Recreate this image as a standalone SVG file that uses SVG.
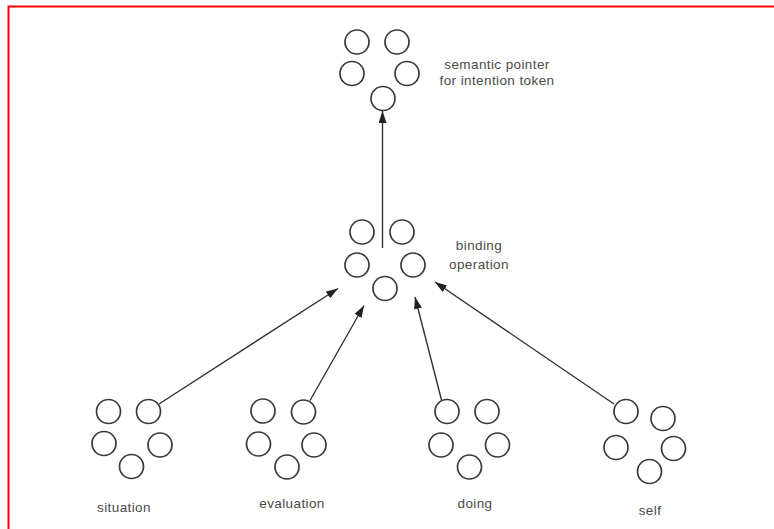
<svg xmlns="http://www.w3.org/2000/svg" width="774" height="529" viewBox="0 0 774 529">
<style>
.n circle{fill:none;stroke:#3a3a3a;stroke-width:1.7}
.lbl{font-family:"Liberation Sans",Arial,sans-serif;font-size:13.5px;letter-spacing:0.4px;fill:#4a4a4a}
.c line{stroke:#333;stroke-width:1.4}
</style>
<defs>
<marker id="ah" viewBox="0 0 12 8" refX="12" refY="4" markerWidth="12" markerHeight="8" markerUnits="userSpaceOnUse" orient="auto">
<path d="M0,0 L12,4 L0,8 Z" fill="#222"/>
</marker>
</defs>
<rect width="774" height="529" fill="#fff"/>
<path d="M8.5,529 V6.5 H774" fill="none" stroke="#f00" stroke-width="2"/>
<g id="intention" class="n">
<circle cx="357" cy="42" r="12"/><circle cx="397" cy="42" r="12"/>
<circle cx="352" cy="73.5" r="12"/><circle cx="407" cy="73.5" r="12"/>
<circle cx="383" cy="98.5" r="12"/>
<text class="lbl" x="497" y="69" text-anchor="middle">semantic pointer</text>
<text class="lbl" x="497" y="85" text-anchor="middle">for intention token</text>
</g>
<g id="binding" class="n">
<circle cx="362" cy="232" r="12"/><circle cx="402" cy="232" r="12"/>
<circle cx="357" cy="265" r="12"/><circle cx="413" cy="265" r="12"/>
<circle cx="385" cy="288.5" r="12"/>
<text class="lbl" x="479" y="250" text-anchor="middle">binding</text>
<text class="lbl" x="479" y="269" text-anchor="middle">operation</text>
</g>
<g id="situation" class="n">
<circle cx="108.5" cy="411.5" r="12"/><circle cx="148.5" cy="411.5" r="12"/>
<circle cx="104" cy="443.5" r="12"/><circle cx="160" cy="445" r="12"/>
<circle cx="131.5" cy="466.5" r="12"/>
<text class="lbl" x="124" y="512" text-anchor="middle">situation</text>
</g>
<g id="evaluation" class="n">
<circle cx="263" cy="411" r="12"/><circle cx="303.5" cy="412" r="12"/>
<circle cx="258.5" cy="444" r="12"/><circle cx="314" cy="445" r="12"/>
<circle cx="287" cy="467" r="12"/>
<text class="lbl" x="292" y="508" text-anchor="middle">evaluation</text>
</g>
<g id="doing" class="n">
<circle cx="447" cy="411.5" r="12"/><circle cx="487" cy="411.5" r="12"/>
<circle cx="441" cy="445" r="12"/><circle cx="497.5" cy="445" r="12"/>
<circle cx="469.5" cy="467" r="12"/>
<text class="lbl" x="475" y="508" text-anchor="middle">doing</text>
</g>
<g id="self" class="n">
<circle cx="626" cy="411.5" r="12"/><circle cx="663" cy="418.5" r="12"/>
<circle cx="616" cy="447.5" r="12"/><circle cx="673.5" cy="448.5" r="12"/>
<circle cx="649.5" cy="471.5" r="12"/>
<text class="lbl" x="650" y="515" text-anchor="middle">self</text>
</g>
<g id="connectors" class="c">
<line x1="382.5" y1="248" x2="382.5" y2="111" marker-end="url(#ah)"/>
<line x1="159" y1="404" x2="338" y2="288.5" marker-end="url(#ah)"/>
<line x1="310" y1="400.5" x2="364" y2="305.5" marker-end="url(#ah)"/>
<line x1="441.5" y1="400" x2="415" y2="297" marker-end="url(#ah)"/>
<line x1="614" y1="404" x2="435" y2="282" marker-end="url(#ah)"/>
</g>
</svg>
